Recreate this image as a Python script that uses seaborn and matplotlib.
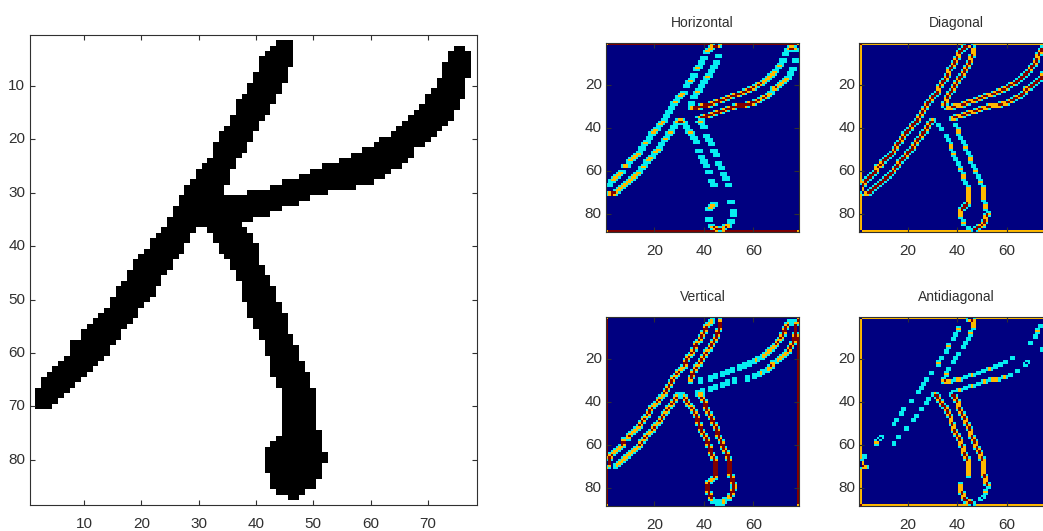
import numpy as np
import matplotlib
matplotlib.use("Agg")
import matplotlib.pyplot as plt
import seaborn as sns

N_ROWS = 88
N_COLS = 78

# Ink of the letter (first/last black column per row)
stroke_a_first_row = 2
stroke_a_left = [44,43,42,41,41,41,40,40,39,39,38,37,37,37,36,36,35,34,34,33,33,33,32,31,30,30,29,28,28,27,27,26,26,25,25,
                 24,23,22,22,21,20,19,19,18,18,17,16,16,15,15,14,13,12,11,10,10,8,8,8,7,6,5,4,3,3,2,2,2,2]
stroke_a_right = [46,46,46,46,46,45,45,45,44,44,43,43,42,42,41,40,40,39,39,38,38,37,36,36,35,35,35,34,34,34,34,34,34,34,34,
                  29,28,28,27,27,26,25,25,24,23,23,22,22,21,20,19,19,18,17,16,16,15,14,14,13,12,11,10,9,8,7,6,5,4]

stroke_b_first_row = 3
stroke_b_left = [75,74,74,73,73,73,72,72,71,70,70,69,68,67,66,65,64,62,61,59,57,55,52,50,48,45,43,39,30,30,30,30,30,30]
stroke_b_right = [76,77,77,77,77,77,76,76,76,76,75,75,74,74,73,72,71,70,69,67,67,66,65,63,62,60,57,52,49,47,44,42,39,37]

stroke_c_first_row = 37
stroke_c_left = [32,33,33,34,34,35,36,36,37,37,38,38,38,38,39,39,39,40,40,41,41,42,42,42,43,43,43,43,44,44,
                 45,45,45,45,45,45,45,45,45,44,43,42,42,42,42,42,43,43,43,44,46]
stroke_c_right = [38,39,39,40,40,40,40,41,41,42,42,43,43,43,44,44,45,45,45,45,46,46,47,47,47,48,48,49,49,49,
                  50,50,50,50,50,50,50,50,51,51,51,51,52,52,51,51,51,50,50,48,47]

x_ticks_main = [10, 20, 30, 40, 50, 60, 70]
y_ticks_main = [10, 20, 30, 40, 50, 60, 70, 80]
x_ticks_small = [20, 40, 60]
y_ticks_small = [20, 40, 60, 80]

panel_titles = ["Horizontal", "Diagonal", "Vertical", "Antidiagonal"]

W, H = 1043, 531

sns.set_theme(style="white")
plt.rcParams["font.family"] = ["Liberation Sans", "DejaVu Sans"]

image = np.ones((N_ROWS, N_COLS))
for first, lefts, rights in [(stroke_a_first_row, stroke_a_left, stroke_a_right),
                             (stroke_b_first_row, stroke_b_left, stroke_b_right),
                             (stroke_c_first_row, stroke_c_left, stroke_c_right)]:
    for i, (a, b) in enumerate(zip(lefts, rights)):
        image[first - 1 + i, a - 1:b] = 0


def correlate(img, kernel):
    pad = np.pad(img, 1)
    out = np.zeros_like(img)
    for dy in range(3):
        for dx in range(3):
            out += kernel[dy][dx] * pad[dy:dy + img.shape[0], dx:dx + img.shape[1]]
    return np.abs(out)


kernels = [
    [[1, 1, 1], [0, 0, 0], [-1, -1, -1]],
    [[1, 1, 0], [1, 0, -1], [0, -1, -1]],
    [[1, 0, -1], [1, 0, -1], [1, 0, -1]],
    [[0, 1, 1], [-1, 0, 1], [-1, -1, 0]],
]


def box(left, right, top, bottom):
    return [left / W, 1 - bottom / H, (right - left) / W, (bottom - top) / H]


def style(ax, xt, yt, size, xpad, ypad):
    ax.set_axisbelow(False)
    ax.set_xticks([v - 0.5 for v in xt])
    ax.set_xticklabels([str(v) for v in xt], rotation=0)
    ax.set_yticks([v - 0.5 for v in yt])
    ax.set_yticklabels([str(v) for v in yt], rotation=0)
    ax.tick_params(axis="x", direction="in", length=3.6, width=0.8, color="#303030",
                   labelcolor="#303030", labelsize=size, pad=xpad, top=True, bottom=True)
    ax.tick_params(axis="y", direction="in", length=3.6, width=0.8, color="#303030",
                   labelcolor="#303030", labelsize=size, pad=ypad, left=True, right=True)
    for s in ax.spines.values():
        s.set_visible(True)
        s.set_linewidth(0.8)
        s.set_color("#303030")
    ax.set_xlabel("")
    ax.set_ylabel("")


fig = plt.figure(figsize=(W / 100, H / 100), dpi=100)

ax = fig.add_axes(box(29.5, 476.7, 35, 505.3))
sns.heatmap(image, cmap="gray", vmin=0, vmax=1, cbar=False, ax=ax, linewidths=0, rasterized=True)
style(ax, x_ticks_main, y_ticks_main, 11, 8.5, 3)

boxes = [(606, 799.3, 43.3, 232.3), (859.3, 1052.6, 43.3, 232.3),
         (606, 799.3, 317.3, 505.7), (859.3, 1052.6, 317.3, 505.7)]
for title, kernel, b in zip(panel_titles, kernels, boxes):
    ax = fig.add_axes(box(*b))
    sns.heatmap(correlate(image, kernel), cmap="jet", vmin=0, vmax=2.8, cbar=False, ax=ax,
                linewidths=0, rasterized=True)
    style(ax, x_ticks_small, y_ticks_small, 11, 8.5, 3)
    ax.set_title(title, fontsize=10, color="#303030", pad=11.5)

fig.savefig("out.png", dpi=100, facecolor="white")
